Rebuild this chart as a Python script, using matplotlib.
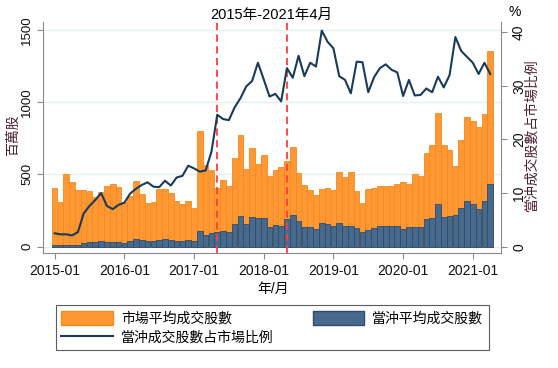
import numpy as np
import matplotlib
matplotlib.use("Agg")
import matplotlib.pyplot as plt
from matplotlib.patches import Patch
from matplotlib.lines import Line2D

plt.rcParams['font.family'] = ['Liberation Sans', 'Noto Sans CJK TC', 'DejaVu Sans']

# monthly data, 2015-01 .. 2021-04
market_vol = [403, 311, 500, 445, 394, 394, 385, 341, 376, 417, 435, 410,
              306, 348, 452, 364, 300, 311, 399, 399, 372, 318, 297, 318,
              265, 797, 565, 530, 408, 459, 422, 613, 774, 537, 682, 574,
              636, 488, 532, 553, 594, 691, 507, 429, 392, 359, 401, 408,
              389, 514, 479, 518, 387, 300, 396, 403, 422, 422, 422, 432,
              445, 431, 500, 491, 645, 705, 924, 700, 670, 560, 735, 896,
              871, 825, 917, 1353]
daytrade_vol = [10, 7, 12, 9, 11, 25, 29, 30, 38, 33, 30, 32,
                25, 35, 49, 42, 36, 35, 44, 49, 43, 41, 39, 48,
                39, 110, 81, 93, 100, 108, 99, 159, 212, 157, 207, 194,
                194, 136, 147, 145, 191, 217, 177, 134, 134, 120, 161, 157,
                141, 161, 145, 141, 131, 101, 115, 127, 140, 143, 139, 143,
                122, 134, 138, 136, 189, 200, 293, 207, 214, 219, 270, 316,
                297, 263, 313, 435]
daytrade_ratio = [2.5, 2.3, 2.3, 2.1, 2.7, 6.2, 7.6, 8.7, 10.0, 7.6, 7.0, 7.8,
                  8.2, 9.9, 10.8, 11.5, 12.0, 11.2, 11.1, 12.3, 11.4, 12.9, 13.2, 15.1,
                  14.6, 14.0, 14.2, 17.7, 24.6, 23.8, 23.6, 26.0, 27.7, 29.9, 30.9, 34.3,
                  31.2, 28.0, 28.5, 27.1, 33.3, 31.5, 35.6, 31.8, 34.3, 33.6, 40.3, 38.2,
                  37.0, 31.8, 31.1, 28.6, 34.5, 34.4, 28.8, 31.6, 33.3, 34.0, 33.0, 32.5,
                  28.1, 31.1, 28.2, 28.3, 29.5, 28.8, 31.7, 29.7, 32.0, 39.1, 36.5, 35.4,
                  34.3, 32.2, 34.3, 32.2]
year_labels = ['2015-01', '2016-01', '2017-01', '2018-01', '2019-01', '2020-01', '2021-01']
event_months = [28, 40]  # 2017-05, 2018-05

months = np.arange(len(market_vol))

fig = plt.figure(figsize=(5.58, 3.68), dpi=100)
ax = fig.add_axes([0.0771, 0.3125, 0.8207, 0.6277])
ax2 = ax.twinx()

# bars overlap (not stacked)
ax.bar(months, market_vol, width=0.97, color='#ff9833', edgecolor='#f58a1f', linewidth=0.6, zorder=2)
ax.bar(months, daytrade_vol, width=0.97, color='#46698c', edgecolor='#2e4d6d', linewidth=0.6, zorder=3)
for m in event_months:
    ax.axvline(m, color='#ff3b3b', linestyle=(0, (4, 2.5)), linewidth=1.3, zorder=5)

ax2.plot(months, daytrade_ratio, color='#1a3a5c', linewidth=1.5, zorder=4)

ax.set_xlim(-2, 76.85)
ax.set_ylim(-45, 1555)
ax2.set_ylim(-1.18, 41.9)

ax.set_yticks([0, 500, 1000, 1500])
ax2.set_yticks([0, 10, 20, 30, 40])
ax.set_xticks(np.arange(0, 73, 12))
ax.set_xticklabels(year_labels)

ax.grid(axis='y', color='#e6efef', linewidth=1.0, zorder=0)
ax.set_axisbelow(True)

gray = '#8a8a8a'
for a in (ax, ax2):
    a.spines['top'].set_visible(False)
    for s in a.spines.values():
        s.set_color(gray)
ax.spines['right'].set_visible(False)
ax2.spines['left'].set_visible(False)
ax2.spines['bottom'].set_visible(False)

ax.tick_params(axis='x', colors=gray, labelcolor='#111111', labelsize=10, length=4, pad=4)
ax.tick_params(axis='y', colors=gray, labelcolor='#111111', labelsize=9.5, length=4,
               labelrotation=90, pad=3)
ax2.tick_params(axis='y', colors=gray, labelcolor='#111111', labelsize=10, length=4,
                labelrotation=90, pad=4)
for lab in ax.get_yticklabels() + ax2.get_yticklabels():
    lab.set_va('center')

# titles / labels
fig.text(271 / 558, 1 - 15 / 368, '2015年-2021年4月', ha='center', va='center', fontsize=10.5)
fig.text(515 / 558, 1 - 12 / 368, '%', ha='center', va='center', fontsize=10)
fig.text(273 / 558, 1 - 289 / 368, '年/月', ha='center', va='center', fontsize=10)
fig.text(13 / 558, 1 - 135 / 368, '百萬股', ha='center', va='center', rotation=90,
         fontsize=10, color='#4b2035')
fig.text(532 / 558, 1 - 135 / 368, '當沖成交股數占市場比例', ha='center', va='center',
         rotation=90, fontsize=10, color='#4b2035')

# legend: row 1 = two bars, row 2 = line
handles = [Patch(facecolor='#ff9833', edgecolor='#f58a1f'),
           Line2D([], [], color='#1a3a5c', linewidth=1.5),
           Patch(facecolor='#46698c', edgecolor='#2e4d6d')]
labels = ['市場平均成交股數', '當沖成交股數占市場比例', '當沖平均成交股數']
leg = fig.legend(handles, labels, ncol=2, loc='upper left',
                 bbox_to_anchor=(0.1, 0.038, 0.776, 0.133), mode='expand',
                 fontsize=10, frameon=True, fancybox=False, edgecolor='#333333',
                 handlelength=3.7, handleheight=1.2, handletextpad=0.6,
                 borderpad=0.4, labelspacing=0.3, borderaxespad=0)
leg.get_frame().set_linewidth(0.8)

fig.savefig('out.png', dpi=100)
